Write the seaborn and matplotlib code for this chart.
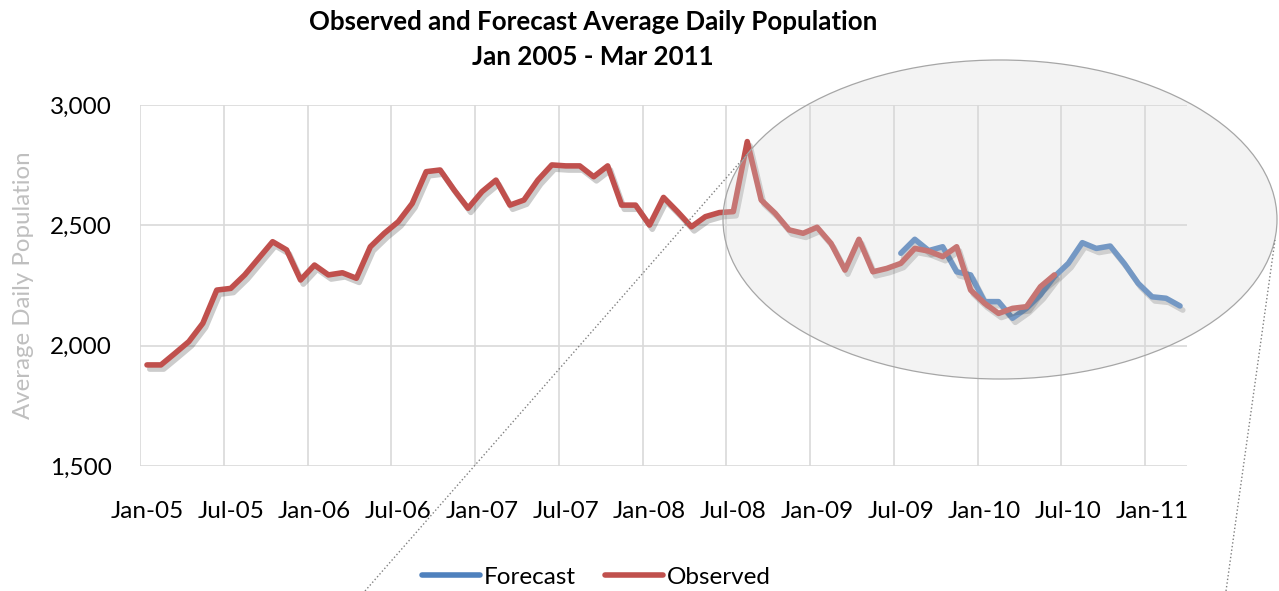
import numpy as np
import pandas as pd
import matplotlib
matplotlib.use("Agg")
import matplotlib.pyplot as plt
import matplotlib.patheffects as pe
from matplotlib.patches import Ellipse
from matplotlib.lines import Line2D
import seaborn as sns

# ── Data (monthly, Jan-05 .. Mar-11) ───────────────────────────
months = pd.date_range("2005-01-01", "2011-03-01", freq="MS").strftime("%b-%y").tolist()

observed = [1920, 1920, 1968, 2017, 2093, 2231, 2238, 2294, 2363, 2432,
            2398, 2273, 2335, 2294, 2303, 2280, 2411, 2467, 2515, 2591,
            2723, 2730, 2647, 2571, 2640, 2688, 2584, 2605, 2688, 2751,
            2747, 2747, 2702, 2747, 2584, 2584, 2501, 2616, 2557, 2494,
            2536, 2553, 2557, 2848, 2605, 2550, 2481, 2467, 2492, 2425,
            2314, 2442, 2307, 2321, 2342, 2404, 2393, 2370, 2411, 2231,
            2176, 2134, 2155, 2162, 2245, 2294]            # Jan-05 .. Jun-10

forecast = [2384, 2442, 2395, 2411, 2307, 2294, 2183, 2183, 2114, 2155,
            2211, 2287, 2342, 2428, 2404, 2414, 2342, 2259, 2203, 2197,
            2165]                                          # Jul-09 .. Mar-11
forecast_start = 54

xtick_labels = ["Jan-05", "Jul-05", "Jan-06", "Jul-06", "Jan-07", "Jul-07",
                "Jan-08", "Jul-08", "Jan-09", "Jul-09", "Jan-10", "Jul-10", "Jan-11"]
yticks = [1500, 2000, 2500, 3000]
ytick_labels = ["1,500", "2,000", "2,500", "3,000"]

df = pd.concat([
    pd.DataFrame({"idx": np.arange(forecast_start, forecast_start + len(forecast)),
                  "value": forecast, "series": "Forecast"}),
    pd.DataFrame({"idx": np.arange(len(observed)),
                  "value": observed, "series": "Observed"}),
])

# ── Plot ───────────────────────────────────────────────────────
sns.set_style("white")
plt.rcParams["font.family"] = ["Lato", "DejaVu Sans"]
plt.rcParams.update({"text.color": "black", "xtick.color": "black",
                     "ytick.color": "black", "axes.labelcolor": "black"})

fig = plt.figure(figsize=(12.79, 5.91), dpi=100)
ax = fig.add_axes([140 / 1279, 1 - 466 / 591, (1187 - 140) / 1279, (466 - 105) / 591])

sns.lineplot(data=df, x="idx", y="value", hue="series",
             palette={"Forecast": "#4F81BD", "Observed": "#C0504D"},
             linewidth=4, ax=ax, legend=False)
for ln in ax.lines:
    ln.set_solid_capstyle("round")
    ln.set_solid_joinstyle("round")
    ln.set_path_effects([pe.SimpleLineShadow(offset=(2, -3), shadow_color="k", alpha=0.2),
                         pe.Normal()])

ax.set_xlim(-0.5, len(months) - 0.5)
ax.set_ylim(1500, 3000)
ax.set_xticks(range(0, len(months), 6))
ax.set_xticklabels(xtick_labels)
ax.set_xticks(np.arange(-0.5, len(months) - 1, 6), minor=True)
ax.set_yticks(yticks)
ax.set_yticklabels(ytick_labels)
ax.tick_params(axis="x", which="both", length=0, pad=25, labelsize=17.5)
ax.tick_params(axis="y", length=0, pad=20, labelsize=17.5)
ax.grid(False)
ax.grid(axis="x", which="minor", color="#d9d9d9", lw=1.2)
ax.grid(axis="y", which="major", color="#d9d9d9", lw=1.2)
for s in ax.spines.values():
    s.set_visible(False)
ax.set_xlabel("")
ax.set_ylabel("Average Daily Population", color="#bfbfbf", fontsize=17.3, labelpad=12)

fig.text(593 / 1279, 1 - 22 / 591, "Observed and Forecast Average Daily Population",
         ha="center", va="center", fontsize=18.6, fontweight="bold")
fig.text(593 / 1279, 1 - 57 / 591, "Jan 2005 - Mar 2011",
         ha="center", va="center", fontsize=18.6, fontweight="bold")

# ── Callout ellipse + dotted leaders ───────────────────────────
fig.add_artist(Ellipse((1000 / 1279, 1 - 219.5 / 591), 554 / 1279, 319 / 591,
                       transform=fig.transFigure, facecolor="#d7d7d7", alpha=0.28,
                       edgecolor="none"))
fig.add_artist(Ellipse((1000 / 1279, 1 - 219.5 / 591), 554 / 1279, 319 / 591,
                       transform=fig.transFigure, facecolor="none",
                       edgecolor="#a6a6a6", lw=0.9))
fig.add_artist(Line2D([365 / 1279, 748 / 1279], [0, 1 - 153 / 591],
                      transform=fig.transFigure, color="#808080", ls=":", lw=1))
fig.add_artist(Line2D([1226 / 1279, 1275 / 1279], [0, 1 - 240 / 591],
                      transform=fig.transFigure, color="#808080", ls=":", lw=1))

# ── Legend ─────────────────────────────────────────────────────
handles = [Line2D([], [], color="#4F81BD", lw=4, solid_capstyle="round"),
           Line2D([], [], color="#C0504D", lw=4, solid_capstyle="round")]
fig.legend(handles, ["Forecast", "Observed"], loc="center", ncol=2,
           bbox_to_anchor=(596 / 1279, 1 - 577 / 591), frameon=False,
           fontsize=17.5, handlelength=2.4, handletextpad=0.15, columnspacing=1.2)

fig.savefig("out.png", dpi=100)
